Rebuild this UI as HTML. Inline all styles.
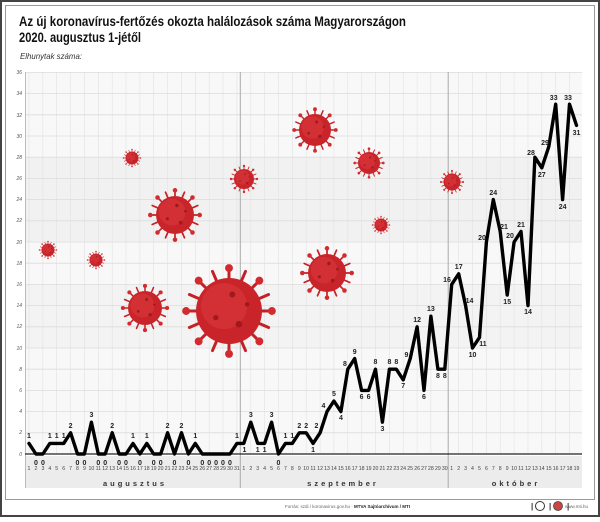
<!DOCTYPE html>
<html><head><meta charset="utf-8">
<style>
html,body{margin:0;padding:0;background:#fff;}
body{width:600px;height:517px;overflow:hidden;font-family:"Liberation Sans",sans-serif;}
</style></head>
<body>
<svg width="600" height="517" viewBox="0 0 600 517" xmlns="http://www.w3.org/2000/svg" font-family="Liberation Sans, sans-serif">
<defs>
<g id="v">
 <g stroke="#c42126" stroke-width="0.09" stroke-linecap="round">
  <line x1="0" y1="-1" x2="0" y2="-1.3"/><line x1="0" y1="1" x2="0" y2="1.3"/>
  <line x1="-1" y1="0" x2="-1.3" y2="0"/><line x1="1" y1="0" x2="1.3" y2="0"/>
  <line x1="0.7" y1="0.7" x2="0.92" y2="0.92"/><line x1="-0.7" y1="0.7" x2="-0.92" y2="0.92"/>
  <line x1="0.7" y1="-0.7" x2="0.92" y2="-0.92"/><line x1="-0.7" y1="-0.7" x2="-0.92" y2="-0.92"/>
  <line x1="0.38" y1="0.92" x2="0.5" y2="1.2"/><line x1="-0.38" y1="0.92" x2="-0.5" y2="1.2"/>
  <line x1="0.38" y1="-0.92" x2="0.5" y2="-1.2"/><line x1="-0.38" y1="-0.92" x2="-0.5" y2="-1.2"/>
  <line x1="0.92" y1="0.38" x2="1.2" y2="0.5"/><line x1="-0.92" y1="0.38" x2="-1.2" y2="0.5"/>
  <line x1="0.92" y1="-0.38" x2="1.2" y2="-0.5"/><line x1="-0.92" y1="-0.38" x2="-1.2" y2="-0.5"/>
 </g>
 <g fill="#d22a2f">
  <circle cx="0" cy="-1.3" r="0.12"/><circle cx="0" cy="1.3" r="0.12"/><circle cx="-1.3" cy="0" r="0.12"/><circle cx="1.3" cy="0" r="0.12"/>
  <circle cx="0.92" cy="0.92" r="0.12"/><circle cx="-0.92" cy="0.92" r="0.12"/><circle cx="0.92" cy="-0.92" r="0.12"/><circle cx="-0.92" cy="-0.92" r="0.12"/>
 </g>
 <circle r="1" fill="#c8242a"/>
 <circle r="0.7" cx="-0.15" cy="-0.15" fill="#d8383c" opacity="0.6"/>
 <g fill="#9e1a1f"><circle cx="0.3" cy="0.4" r="0.1"/><circle cx="-0.4" cy="0.2" r="0.08"/><circle cx="0.1" cy="-0.5" r="0.09"/><circle cx="0.55" cy="-0.2" r="0.07"/></g>
</g>
</defs>
<rect x="0" y="0" width="600" height="517" fill="#fff"/>
<rect x="1" y="1" width="598" height="515" fill="none" stroke="#444" stroke-width="2"/>
<rect x="5.5" y="5.5" width="589" height="494" fill="none" stroke="#999" stroke-width="1"/>
<text x="19" y="26" font-size="13.5" font-weight="bold" fill="#111" textLength="387" lengthAdjust="spacingAndGlyphs">Az új koronavírus-fertőzés okozta halálozások száma Magyarországon</text>
<text x="19" y="42" font-size="13.5" font-weight="bold" fill="#111" textLength="122" lengthAdjust="spacingAndGlyphs">2020. augusztus 1-jétől</text>
<text x="20" y="59" font-size="8.5" font-style="italic" fill="#333" textLength="62" lengthAdjust="spacingAndGlyphs">Elhunytak száma:</text>
<rect x="25" y="72" width="557" height="382" fill="#f8f8f8"/>
<rect x="25" y="157" width="557" height="85" fill="#f1f1f1"/>
<rect x="25" y="284" width="557" height="64" fill="#f3f3f3"/>
<rect x="25" y="456" width="557" height="32" fill="#ececec"/>
<g stroke="#e2e2e2" stroke-width="0.6">
<line x1="29" y1="72" x2="29" y2="454"/><line x1="42.9" y1="72" x2="42.9" y2="454"/><line x1="56.7" y1="72" x2="56.7" y2="454"/><line x1="70.6" y1="72" x2="70.6" y2="454"/><line x1="84.4" y1="72" x2="84.4" y2="454"/><line x1="98.3" y1="72" x2="98.3" y2="454"/><line x1="112.2" y1="72" x2="112.2" y2="454"/><line x1="126" y1="72" x2="126" y2="454"/><line x1="139.9" y1="72" x2="139.9" y2="454"/><line x1="153.7" y1="72" x2="153.7" y2="454"/><line x1="167.6" y1="72" x2="167.6" y2="454"/><line x1="181.5" y1="72" x2="181.5" y2="454"/><line x1="195.3" y1="72" x2="195.3" y2="454"/><line x1="209.2" y1="72" x2="209.2" y2="454"/><line x1="223" y1="72" x2="223" y2="454"/><line x1="236.9" y1="72" x2="236.9" y2="454"/><line x1="250.8" y1="72" x2="250.8" y2="454"/><line x1="264.6" y1="72" x2="264.6" y2="454"/><line x1="278.5" y1="72" x2="278.5" y2="454"/><line x1="292.3" y1="72" x2="292.3" y2="454"/><line x1="306.2" y1="72" x2="306.2" y2="454"/><line x1="320.1" y1="72" x2="320.1" y2="454"/><line x1="333.9" y1="72" x2="333.9" y2="454"/><line x1="347.8" y1="72" x2="347.8" y2="454"/><line x1="361.6" y1="72" x2="361.6" y2="454"/><line x1="375.5" y1="72" x2="375.5" y2="454"/><line x1="389.4" y1="72" x2="389.4" y2="454"/><line x1="403.2" y1="72" x2="403.2" y2="454"/><line x1="417.1" y1="72" x2="417.1" y2="454"/><line x1="430.9" y1="72" x2="430.9" y2="454"/><line x1="458.7" y1="72" x2="458.7" y2="454"/><line x1="472.5" y1="72" x2="472.5" y2="454"/><line x1="486.4" y1="72" x2="486.4" y2="454"/><line x1="500.2" y1="72" x2="500.2" y2="454"/><line x1="514.1" y1="72" x2="514.1" y2="454"/><line x1="528" y1="72" x2="528" y2="454"/><line x1="541.8" y1="72" x2="541.8" y2="454"/><line x1="555.7" y1="72" x2="555.7" y2="454"/><line x1="569.5" y1="72" x2="569.5" y2="454"/>
</g>
<g stroke="#dcdcdc" stroke-width="0.8">
<line x1="25" y1="72.4" x2="582" y2="72.4"/><line x1="25" y1="93.6" x2="582" y2="93.6"/><line x1="25" y1="114.8" x2="582" y2="114.8"/><line x1="25" y1="136" x2="582" y2="136"/><line x1="25" y1="157.2" x2="582" y2="157.2"/><line x1="25" y1="178.4" x2="582" y2="178.4"/><line x1="25" y1="199.6" x2="582" y2="199.6"/><line x1="25" y1="220.8" x2="582" y2="220.8"/><line x1="25" y1="242" x2="582" y2="242"/><line x1="25" y1="263.2" x2="582" y2="263.2"/><line x1="25" y1="284.4" x2="582" y2="284.4"/><line x1="25" y1="305.6" x2="582" y2="305.6"/><line x1="25" y1="326.8" x2="582" y2="326.8"/><line x1="25" y1="348" x2="582" y2="348"/><line x1="25" y1="369.2" x2="582" y2="369.2"/><line x1="25" y1="390.4" x2="582" y2="390.4"/><line x1="25" y1="411.6" x2="582" y2="411.6"/><line x1="25" y1="432.8" x2="582" y2="432.8"/>
</g>
<line x1="25.5" y1="72" x2="25.5" y2="488" stroke="#bbb" stroke-width="1"/>
<line x1="240.3" y1="72" x2="240.3" y2="488" stroke="#aaa" stroke-width="1"/>
<line x1="448.2" y1="72" x2="448.2" y2="488" stroke="#aaa" stroke-width="1"/>
<line x1="25" y1="454" x2="582" y2="454" stroke="#222" stroke-width="1.2"/>
<g font-size="5" font-style="italic" fill="#555" text-anchor="end">
<text x="22" y="74">36</text><text x="22" y="95">34</text><text x="22" y="117">32</text><text x="22" y="138">30</text><text x="22" y="159">28</text><text x="22" y="180">26</text><text x="22" y="201">24</text><text x="22" y="222">22</text><text x="22" y="244">20</text><text x="22" y="265">18</text><text x="22" y="286">16</text><text x="22" y="307">14</text><text x="22" y="328">12</text><text x="22" y="350">10</text><text x="22" y="371">8</text><text x="22" y="392">6</text><text x="22" y="413">4</text><text x="22" y="434">2</text><text x="22" y="456">0</text>
</g>
<use href="#v" transform="translate(48,250) scale(6.5)"/>
<use href="#v" transform="translate(96,260) scale(6.5)"/>
<use href="#v" transform="translate(132,158) scale(6.5)"/>
<use href="#v" transform="translate(175,215) scale(19)"/>
<use href="#v" transform="translate(145,308) scale(17)"/>
<use href="#v" transform="translate(229,311) scale(33)"/>
<use href="#v" transform="translate(244,179) scale(10)"/>
<use href="#v" transform="translate(315,130) scale(16)"/>
<use href="#v" transform="translate(327,273) scale(19)"/>
<use href="#v" transform="translate(369,163) scale(11)"/>
<use href="#v" transform="translate(381,225) scale(6.5)"/>
<use href="#v" transform="translate(452,182) scale(8.5)"/>
<polyline fill="none" stroke="#000" stroke-width="3.4" stroke-linejoin="round" stroke-linecap="round" points="29,443.4 35.9,454 42.9,454 49.8,443.4 56.7,443.4 63.7,443.4 70.6,432.8 77.5,454 84.4,454 91.4,422.2 98.3,454 105.2,454 112.2,432.8 119.1,454 126,454 133,443.4 139.9,454 146.8,443.4 153.7,454 160.7,454 167.6,432.8 174.5,454 181.5,432.8 188.4,454 195.3,443.4 202.3,454 209.2,454 216.1,454 223,454 230,454 236.9,443.4 243.8,443.4 250.8,422.2 257.7,443.4 264.6,443.4 271.6,422.2 278.5,454 285.4,443.4 292.3,443.4 299.3,432.8 306.2,432.8 313.1,443.4 320.1,432.8 327,411.6 333.9,401 340.9,411.6 347.8,369.2 354.7,358.6 361.6,390.4 368.6,390.4 375.5,369.2 382.4,422.2 389.4,369.2 396.3,369.2 403.2,379.8 410.2,358.6 417.1,326.8 424,390.4 430.9,316.2 437.9,369.2 444.8,369.2 451.7,284.4 458.7,273.8 465.6,305.6 472.5,348 479.5,337.4 486.4,242 493.3,199.6 500.2,231.4 507.2,295 514.1,242 521,231.4 528,305.6 534.9,157.2 541.8,167.8 548.8,146.6 555.7,104.2 562.6,199.6 569.5,104.2 576.5,125.4"/>
<g font-size="7" font-weight="bold" fill="#222" text-anchor="middle">
<text x="29" y="438">1</text><text x="35.9" y="465">0</text><text x="42.9" y="465">0</text><text x="49.8" y="438">1</text><text x="56.7" y="438">1</text><text x="63.7" y="438">1</text><text x="70.6" y="428">2</text><text x="77.5" y="465">0</text><text x="84.4" y="465">0</text><text x="91.4" y="417">3</text><text x="98.3" y="465">0</text><text x="105.2" y="465">0</text><text x="112.2" y="428">2</text><text x="119.1" y="465">0</text><text x="126" y="465">0</text><text x="133" y="438">1</text><text x="139.9" y="465">0</text><text x="146.8" y="438">1</text><text x="153.7" y="465">0</text><text x="160.7" y="465">0</text><text x="167.6" y="428">2</text><text x="174.5" y="465">0</text><text x="181.5" y="428">2</text><text x="188.4" y="465">0</text><text x="195.3" y="438">1</text><text x="202.3" y="465">0</text><text x="209.2" y="465">0</text><text x="216.1" y="465">0</text><text x="223" y="465">0</text><text x="230" y="465">0</text><text x="236.9" y="438">1</text>
<text x="244.5" y="452">1</text><text x="250.8" y="417">3</text><text x="257.7" y="452">1</text><text x="264.6" y="452">1</text><text x="271.6" y="417">3</text><text x="278.5" y="465">0</text><text x="285.4" y="438">1</text><text x="292.3" y="438">1</text><text x="299.3" y="428">2</text><text x="306.2" y="428">2</text><text x="313.1" y="452">1</text><text x="316.5" y="428">2</text><text x="323.5" y="408">4</text><text x="333.9" y="396">5</text><text x="340.9" y="420">4</text><text x="345" y="366">8</text><text x="354.7" y="354">9</text><text x="361.6" y="399">6</text><text x="368.6" y="399">6</text><text x="375.5" y="364">8</text><text x="382.4" y="431">3</text><text x="389.4" y="364">8</text><text x="396.3" y="364">8</text><text x="403.2" y="388">7</text><text x="406.5" y="357">9</text><text x="417.1" y="322">12</text><text x="424" y="399">6</text><text x="430.9" y="311">13</text><text x="437.9" y="378">8</text><text x="444.8" y="378">8</text>
<text x="447" y="282">16</text><text x="458.7" y="269">17</text><text x="469.5" y="303">14</text><text x="472.5" y="357">10</text><text x="483" y="346">11</text><text x="482" y="240">20</text><text x="493.3" y="195">24</text><text x="504" y="229">21</text><text x="507.2" y="304">15</text><text x="510" y="238">20</text><text x="521" y="227">21</text><text x="528" y="314">14</text><text x="531" y="155">28</text><text x="541.8" y="177">27</text><text x="545" y="145">29</text><text x="553.7" y="100">33</text><text x="562.6" y="209">24</text><text x="568" y="100">33</text><text x="576.5" y="135">31</text>
</g>
<g font-size="5.2" fill="#444" text-anchor="middle">
<text x="29" y="470">1</text><text x="35.9" y="470">2</text><text x="42.9" y="470">3</text><text x="49.8" y="470">4</text><text x="56.7" y="470">5</text><text x="63.7" y="470">6</text><text x="70.6" y="470">7</text><text x="77.5" y="470">8</text><text x="84.4" y="470">9</text><text x="91.4" y="470">10</text><text x="98.3" y="470">11</text><text x="105.2" y="470">12</text><text x="112.2" y="470">13</text><text x="119.1" y="470">14</text><text x="126" y="470">15</text><text x="133" y="470">16</text><text x="139.9" y="470">17</text><text x="146.8" y="470">18</text><text x="153.7" y="470">19</text><text x="160.7" y="470">20</text><text x="167.6" y="470">21</text><text x="174.5" y="470">22</text><text x="181.5" y="470">23</text><text x="188.4" y="470">24</text><text x="195.3" y="470">25</text><text x="202.3" y="470">26</text><text x="209.2" y="470">27</text><text x="216.1" y="470">28</text><text x="223" y="470">29</text><text x="230" y="470">30</text><text x="236.9" y="470">31</text>
<text x="243.8" y="470">1</text><text x="250.8" y="470">2</text><text x="257.7" y="470">3</text><text x="264.6" y="470">4</text><text x="271.6" y="470">5</text><text x="278.5" y="470">6</text><text x="285.4" y="470">7</text><text x="292.3" y="470">8</text><text x="299.3" y="470">9</text><text x="306.2" y="470">10</text><text x="313.1" y="470">11</text><text x="320.1" y="470">12</text><text x="327" y="470">13</text><text x="333.9" y="470">14</text><text x="340.9" y="470">15</text><text x="347.8" y="470">16</text><text x="354.7" y="470">17</text><text x="361.6" y="470">18</text><text x="368.6" y="470">19</text><text x="375.5" y="470">20</text><text x="382.4" y="470">21</text><text x="389.4" y="470">22</text><text x="396.3" y="470">23</text><text x="403.2" y="470">24</text><text x="410.2" y="470">25</text><text x="417.1" y="470">26</text><text x="424" y="470">27</text><text x="430.9" y="470">28</text><text x="437.9" y="470">29</text><text x="444.8" y="470">30</text>
<text x="451.7" y="470">1</text><text x="458.7" y="470">2</text><text x="465.6" y="470">3</text><text x="472.5" y="470">4</text><text x="479.5" y="470">5</text><text x="486.4" y="470">6</text><text x="493.3" y="470">7</text><text x="500.2" y="470">8</text><text x="507.2" y="470">9</text><text x="514.1" y="470">10</text><text x="521" y="470">11</text><text x="528" y="470">12</text><text x="534.9" y="470">13</text><text x="541.8" y="470">14</text><text x="548.8" y="470">15</text><text x="555.7" y="470">16</text><text x="562.6" y="470">17</text><text x="569.5" y="470">18</text><text x="576.5" y="470">19</text>
</g>
<g font-size="7.5" font-weight="bold" fill="#333" text-anchor="middle" letter-spacing="3">
<text x="135" y="486">augusztus</text><text x="343" y="486">szeptember</text><text x="516" y="486">október</text>
</g>
<text x="410" y="508" font-size="4.5" fill="#666" text-anchor="end">Forrás: szdi / koronavirus.gov.hu · <tspan font-weight="bold" fill="#222">MTVA Sajtóarchívum / MTI</tspan></text>
<text x="531" y="509" font-size="8" font-weight="bold" fill="#333">|</text>
<circle cx="540" cy="506" r="4.5" fill="none" stroke="#333" stroke-width="1"/>
<text x="549" y="509" font-size="8" font-weight="bold" fill="#333">|</text>
<circle cx="558" cy="506" r="4.5" fill="#c44" stroke="#444" stroke-width="0.8"/>
<text x="567" y="509" font-size="8" font-weight="bold" fill="#333">|</text>
<text x="588" y="508" font-size="4.5" fill="#666" text-anchor="end">www.mti.hu</text>
</svg>
</body></html>
